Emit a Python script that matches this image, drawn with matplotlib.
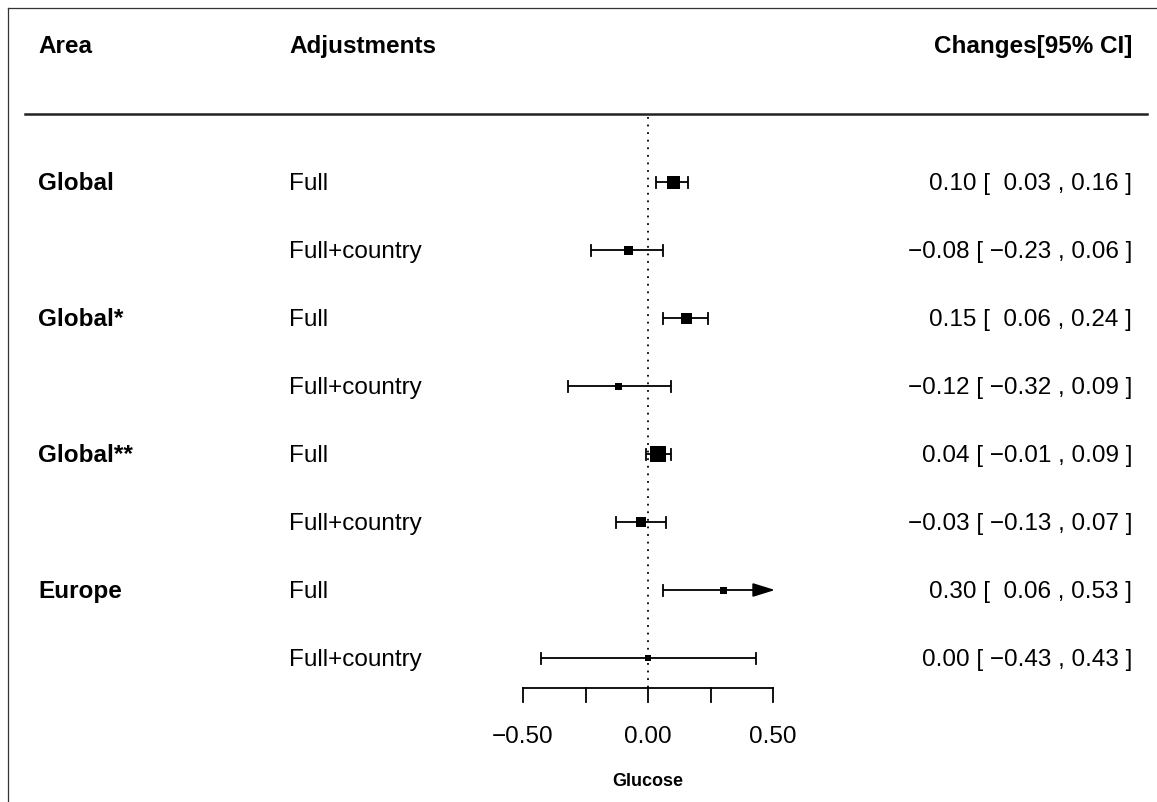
import matplotlib
matplotlib.use("Agg")
import matplotlib.pyplot as plt

# ---- data ----
areas = ["Global", "", "Global*", "", "Global**", "", "Europe", ""]
adjustments = ["Full", "Full+country"] * 4
estimates = [0.10, -0.08, 0.15, -0.12, 0.04, -0.03, 0.30, 0.00]
lower = [0.03, -0.23, 0.06, -0.32, -0.01, -0.13, 0.06, -0.43]
upper = [0.16, 0.06, 0.24, 0.09, 0.09, 0.07, 0.53, 0.43]
weights = [13, 9, 11, 7, 16, 10, 7, 6]   # box widths in px (precision weights)
xticks = [-0.50, -0.25, 0.00, 0.25, 0.50]
xticklabels = ["\u22120.50", "", "0.00", "", "0.50"]
headers = ["Area", "Adjustments", "Changes[95% CI]"]
xlabel = "Glucose"

# ---- layout helpers (pixel -> data) ----
W, H = 1157, 803
X0, XS = 648, 250      # pixel of 0, pixels per unit
Y0, YS = 183, 68       # pixel of first row, pixels per row
def px_x(p): return (p - X0) / XS
def px_y(p): return (p - Y0) / YS

plt.rcParams["font.family"] = ["Liberation Sans", "DejaVu Sans"]
fig = plt.figure(figsize=(W / 100, H / 100), dpi=100)
ax = fig.add_axes([0, 0, 1, 1])
ax.set_xlim(px_x(0), px_x(W))
ax.set_ylim(px_y(H), px_y(0))
ax.axis("off")

xlo, xhi = xticks[0], xticks[-1]
fs = 17.5
lw = 1.3
cap = 5.5 / YS  # half cap height in rows

def fmt(v):
    s = f"{v:.2f}"
    return s.replace("-", "\u2212")

for i, (a, adj, est, lo, hi, w) in enumerate(zip(areas, adjustments, estimates, lower, upper, weights)):
    base = px_y(Y0 + YS * i + 7)
    if a:
        ax.text(px_x(38), base, a, fontsize=fs, fontweight="bold", va="baseline", ha="left")
    ax.text(px_x(289), base, adj, fontsize=fs, va="baseline", ha="left")
    lo_s = fmt(lo) if lo < 0 else " " + fmt(lo)
    ax.text(px_x(1132), base, f"{fmt(est)} [ {lo_s} , {fmt(hi)} ]",
            fontsize=fs, va="baseline", ha="right")
    # CI line
    l = max(lo, xlo)
    r = min(hi, xhi)
    if hi > xhi:
        ax.plot([l, r - 0.06], [i, i], color="black", lw=lw, solid_capstyle="butt")
        ax.annotate("", xy=(r + 0.008, i), xytext=(r - 0.08, i),
                    arrowprops=dict(arrowstyle="-|>,head_length=1.35,head_width=0.42",
                                    color="black", lw=lw, shrinkA=0, shrinkB=0))
    else:
        ax.plot([l, r], [i, i], color="black", lw=lw, solid_capstyle="butt")
        ax.plot([r, r], [i - cap, i + cap], color="black", lw=lw)
    if lo >= xlo:
        ax.plot([l, l], [i - cap, i + cap], color="black", lw=lw)
    ax.plot(est, i, marker="s", color="black", markersize=w * 0.72, markeredgewidth=0, zorder=5)

# reference line at 0
ax.plot([0, 0], [px_y(118), px_y(689)], color="black", lw=1.3, linestyle=(0, (1, 3.2)), zorder=1)

# header
for text, xp, ha in zip(headers, [38, 289, 1132], ["left", "left", "right"]):
    ax.text(px_x(xp), px_y(53), text, fontsize=fs, fontweight="bold", va="baseline", ha=ha)
ax.plot([px_x(25), px_x(1147)], [px_y(115), px_y(115)], color="#222222", lw=1.8)

# frame (top & left)
ax.plot([px_x(8), px_x(W)], [px_y(9), px_y(9)], color="#333333", lw=0.9)
ax.plot([px_x(8), px_x(8)], [px_y(9), px_y(H)], color="#333333", lw=0.9)

# x axis
ya = px_y(689)
ax.plot([xlo, xhi], [ya, ya], color="black", lw=lw, solid_capstyle="projecting")
for t, lab in zip(xticks, xticklabels):
    ax.plot([t, t], [ya, px_y(703)], color="black", lw=lw)
    if lab:
        ax.text(t, px_y(743), lab, fontsize=fs, ha="center", va="baseline")
ax.text(0, px_y(786), xlabel, fontsize=13, fontweight="bold", ha="center", va="baseline")

fig.savefig("out.png", dpi=100)
